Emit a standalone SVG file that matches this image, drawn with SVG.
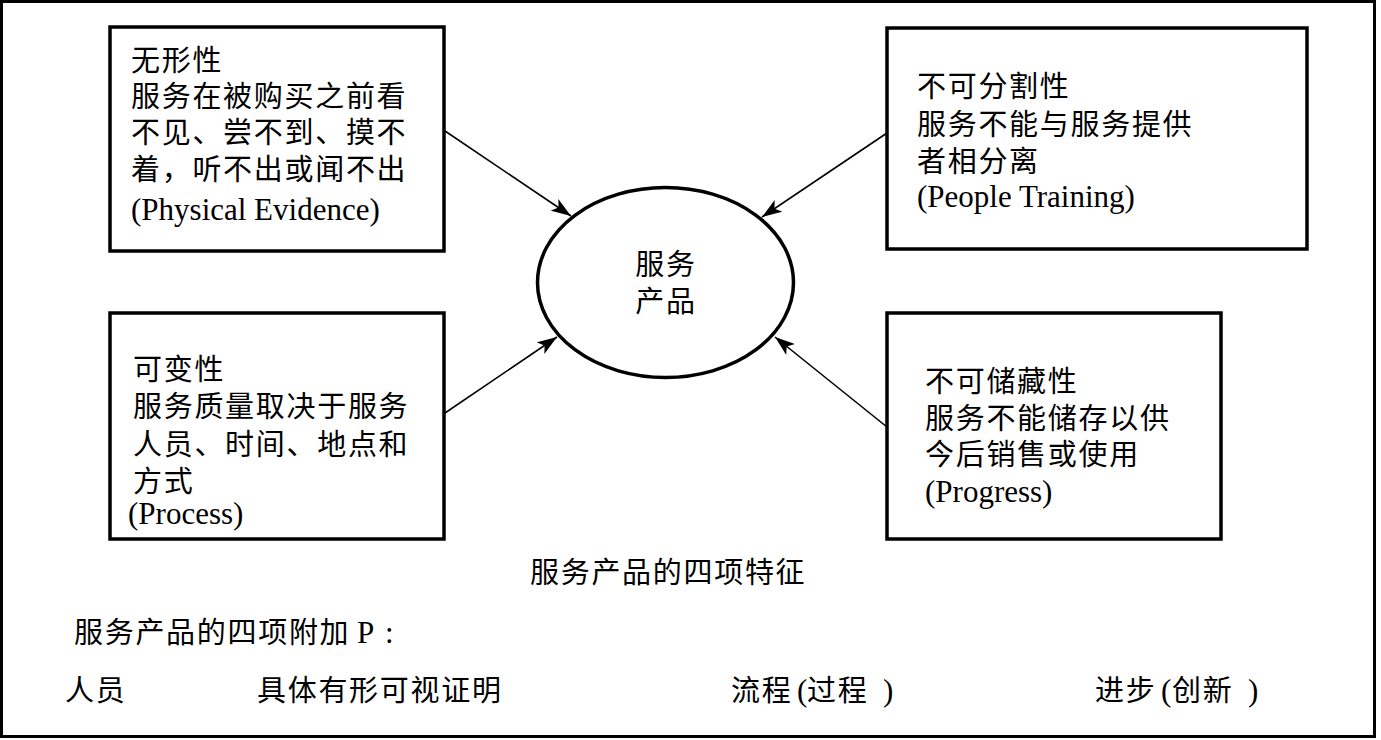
<svg xmlns="http://www.w3.org/2000/svg" width="1381" height="740" viewBox="0 0 1381 740">
<style>
.box{fill:#fff;stroke:#000;stroke-width:3.5}
.cjk{font-family:"Noto Sans CJK SC","Noto Sans CJK TC",sans-serif;font-size:29px;fill:#000;letter-spacing:1.7px}
.lat{font-family:"Liberation Serif","Times New Roman",serif;font-size:31px;fill:#000;letter-spacing:0}
.conn{stroke:#000;stroke-width:1.6;fill:none;marker-end:url(#arr)}
</style>
<defs>
<marker id="arr" markerUnits="userSpaceOnUse" markerWidth="22" markerHeight="14" refX="20" refY="7" orient="auto">
<path d="M0,0 L20,7 L0,14 L5,7 z" fill="#000"/>
</marker>
</defs>
<rect x="0" y="0" width="1381" height="740" fill="#fff"/>
<rect id="frame" x="1.5" y="1.5" width="1373" height="735" fill="none" stroke="#000" stroke-width="3"/>

<g id="box-intangibility">
<rect class="box" x="110" y="27" width="334" height="224"/>
<text class="cjk" x="131" y="71">无形性</text>
<text class="cjk" x="131" y="107">服务在被购买之前看</text>
<text class="cjk" x="131" y="143">不见、尝不到、摸不</text>
<text class="cjk" x="131" y="180">着，听不出或闻不出</text>
<text class="lat" x="131" y="220">(Physical Evidence)</text>
</g>

<g id="box-inseparability">
<rect class="box" x="887" y="28" width="420" height="221"/>
<text class="cjk" x="917" y="97">不可分割性</text>
<text class="cjk" x="917" y="135">服务不能与服务提供</text>
<text class="cjk" x="917" y="172">者相分离</text>
<text class="lat" x="917" y="207">(People Training)</text>
</g>

<g id="box-variability">
<rect class="box" x="110" y="313" width="334" height="226"/>
<text class="cjk" x="133" y="380">可变性</text>
<text class="cjk" x="133" y="417">服务质量取决于服务</text>
<text class="cjk" x="133" y="455">人员、时间、地点和</text>
<text class="cjk" x="133" y="492">方式</text>
<text class="lat" x="128" y="524">(Process)</text>
</g>

<g id="box-perishability">
<rect class="box" x="887" y="313" width="334" height="226"/>
<text class="cjk" x="925" y="392">不可储藏性</text>
<text class="cjk" x="925" y="429">服务不能储存以供</text>
<text class="cjk" x="925" y="465">今后销售或使用</text>
<text class="lat" x="925" y="502">(Progress)</text>
</g>

<g id="service-product">
<ellipse cx="665.5" cy="282.5" rx="128" ry="95" fill="#fff" stroke="#000" stroke-width="3.5"/>
<text class="cjk" x="666" y="275" text-anchor="middle">服务</text>
<text class="cjk" x="666" y="312" text-anchor="middle">产品</text>
</g>

<g id="connectors">
<line class="conn" x1="445" y1="131" x2="571" y2="216"/>
<line class="conn" x1="887" y1="133" x2="762" y2="217"/>
<line class="conn" x1="445" y1="413" x2="557" y2="337"/>
<line class="conn" x1="887" y1="427" x2="775" y2="337"/>
</g>

<g id="caption">
<text class="cjk" x="530" y="583">服务产品的四项特征</text>
</g>

<g id="additional-p">
<text class="cjk" x="74" y="643">服务产品的四项附加<tspan class="lat" x="357">P</tspan><tspan class="lat" x="385">:</tspan></text>
<text class="cjk" x="65" y="701">人员</text>
<text class="cjk" x="257" y="701">具体有形可视证明</text>
<text class="cjk" x="731" y="701">流程<tspan class="lat" x="797">(</tspan><tspan x="807">过程</tspan><tspan class="lat" x="883">)</tspan></text>
<text class="cjk" x="1095" y="701">进步<tspan class="lat" x="1161">(</tspan><tspan x="1172">创新</tspan><tspan class="lat" x="1248">)</tspan></text>
</g>
</svg>
